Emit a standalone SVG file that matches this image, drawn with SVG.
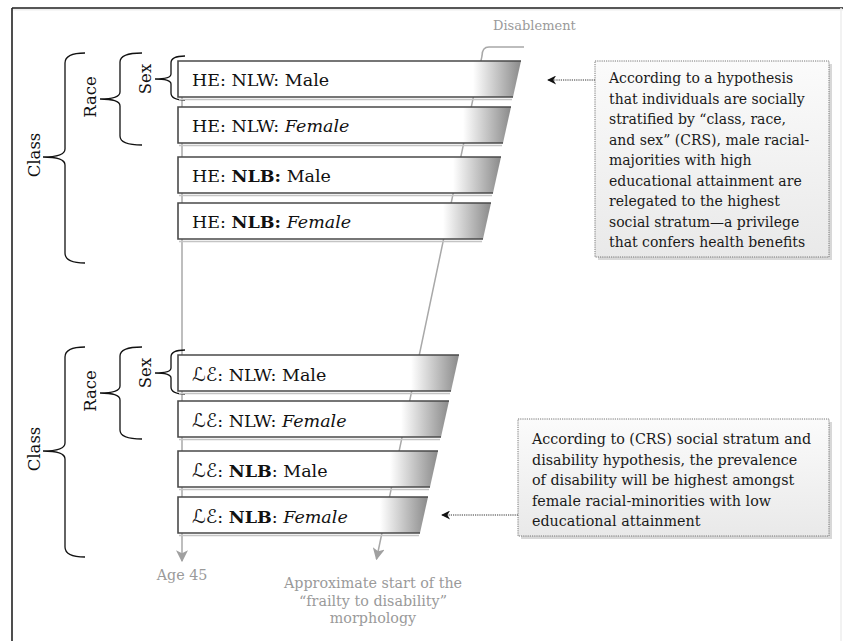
<svg xmlns="http://www.w3.org/2000/svg" width="843" height="641" viewBox="0 0 843 641">
<style>
.bt{font-family:"DejaVu Serif","Liberation Serif",serif;font-size:17.5px;fill:#111;}
.sc{font-family:"DejaVu Sans","Noto Sans",sans-serif;font-size:19px;}
.lbl{font-family:"DejaVu Serif","Liberation Serif",serif;font-size:16.5px;fill:#111;}
.gray{font-family:"DejaVu Serif","Liberation Serif",serif;font-size:14.3px;fill:#9a9a9a;}
.ct{font-family:"DejaVu Serif","Liberation Serif",serif;font-size:14.3px;fill:#1a1a1a;}
.ct1{font-family:"DejaVu Serif","Liberation Serif",serif;font-size:14px;fill:#1a1a1a;}
.bar{fill:#fff;}
.barg{fill:url(#barGrad);}
.edge{fill:none;stroke:#4a4a4a;stroke-width:1.6;}
.shadow{fill:none;stroke:#c4c4c4;stroke-width:1.6;}
.brace{fill:none;stroke:#111;stroke-width:1.3;}
.gline{fill:none;stroke:#a8a8a8;stroke-width:1.5;}
.dot{fill:none;stroke:#333;stroke-width:1;stroke-dasharray:1.2 1;}
.box{fill:url(#boxGrad);stroke:#777;stroke-width:1;stroke-dasharray:1.2 1;}
.boxsh{fill:#d8d8d8;}
</style>
<defs>
<linearGradient id="barGrad" x1="0" y1="0" x2="1" y2="0">
<stop offset="0" stop-color="#ffffff"/>
<stop offset="1" stop-color="#8a8a8a"/>
</linearGradient>
<linearGradient id="boxGrad" x1="0" y1="0" x2="0" y2="1">
<stop offset="0" stop-color="#fbfbfb"/>
<stop offset="1" stop-color="#e9e9e9"/>
</linearGradient>
<marker id="garr" markerUnits="userSpaceOnUse" markerWidth="12" markerHeight="12" viewBox="0 0 10 10" refX="9" refY="5" orient="auto">
<path d="M0,0 L10,5 L0,10 L2.5,5 z" fill="#a0a0a0"/>
</marker>
<marker id="barr" markerUnits="userSpaceOnUse" markerWidth="10" markerHeight="9" viewBox="0 0 10 10" refX="9" refY="5" orient="auto">
<path d="M0,0 L10,5 L0,10 L3,5 z" fill="#111"/>
</marker>
</defs>

<g id="frame">
<rect x="0" y="0" width="843" height="641" fill="#fff"/>
<line x1="12" y1="9" x2="843" y2="9" stroke="#eee" stroke-width="3"/>
<line x1="12" y1="8" x2="843" y2="8" stroke="#222" stroke-width="1.6"/>
<line x1="12" y1="8" x2="12" y2="641" stroke="#222" stroke-width="1.6"/>
<line x1="841" y1="8" x2="841" y2="641" stroke="#eeeeee" stroke-width="1.5"/>
</g>

<g id="connectors">
<path id="age-line" class="gline" d="M182,61 V561" marker-end="url(#garr)"/>
<path id="disablement-line" class="gline" d="M524,47 H489 Q482,47 482,56 L376.5,559" marker-end="url(#garr)"/>
<path id="callout1-arrow" class="dot" d="M595,80 H548" marker-end="url(#barr)"/>
<path id="callout2-arrow" class="dot" d="M518,515 H442" marker-end="url(#barr)"/>
</g>

<g id="axis-labels">
<text class="gray" x="493" y="30" style="font-size:13px">Disablement</text>
<text class="gray" x="182" y="580" text-anchor="middle">Age 45</text>
<text class="gray" x="373" y="588" text-anchor="middle">Approximate start of the</text>
<text class="gray" x="373" y="606" text-anchor="middle">“frailty to disability”</text>
<text class="gray" x="373" y="623" text-anchor="middle">morphology</text>
</g>

<g id="braces-upper">
<g id="class-upper">
<path class="brace" d="M85,53 Q65,53 65,63 L65,149 Q65,157 43,157 Q65,157 65,165 L65,253 Q65,263 85,263"/>
<text class="lbl" transform="translate(40,155) rotate(-90)" text-anchor="middle">Class</text>
</g>
<g id="race-upper">
<path class="brace" d="M142,53 Q120,53 120,62 L120,92 Q120,99 100,99 Q120,99 120,106 L120,136 Q120,145 142,145"/>
<text class="lbl" transform="translate(96,97) rotate(-90)" text-anchor="middle">Race</text>
</g>
<g id="sex-upper">
<path class="brace" d="M185,56 Q171,56 171,63 L171,74 Q171,79 155,79 Q171,79 171,84 L171,93 Q171,100 185,100"/>
<text class="lbl" transform="translate(151,79) rotate(-90)" text-anchor="middle">Sex</text>
</g>
</g>

<g id="braces-lower">
<g id="class-lower">
<path class="brace" d="M85,347 Q65,347 65,357 L65,443 Q65,451 43,451 Q65,451 65,459 L65,547 Q65,557 85,557"/>
<text class="lbl" transform="translate(40,449) rotate(-90)" text-anchor="middle">Class</text>
</g>
<g id="race-lower">
<path class="brace" d="M142,347 Q120,347 120,356 L120,386 Q120,393 100,393 Q120,393 120,400 L120,430 Q120,439 142,439"/>
<text class="lbl" transform="translate(96,391) rotate(-90)" text-anchor="middle">Race</text>
</g>
<g id="sex-lower">
<path class="brace" d="M185,350 Q171,350 171,357 L171,368 Q171,373 155,373 Q171,373 171,378 L171,387 Q171,394 185,394"/>
<text class="lbl" transform="translate(151,373) rotate(-90)" text-anchor="middle">Sex</text>
</g>
</g>

<g id="bar-he-nlw-male">
<polygon class="bar" points="178,61 521,61 513,97 178,97"/>
<polygon class="barg" points="473,61 521,61 513,97 473,97"/>
<path class="shadow" d="M179,99.5 H512"/>
<path class="edge" d="M521,61 H178 V97 H513"/>
<text class="bt" x="192" y="86">HE: NLW: Male</text>
</g>
<g id="bar-he-nlw-female">
<polygon class="bar" points="178,107 511,107 503,143 178,143"/>
<polygon class="barg" points="463,107 511,107 503,143 463,143"/>
<path class="shadow" d="M179,145.5 H502"/>
<path class="edge" d="M511,107 H178 V143 H503"/>
<text class="bt" x="192" y="132">HE: NLW: <tspan font-style="italic">Female</tspan></text>
</g>
<g id="bar-he-nlb-male">
<polygon class="bar" points="178,157 501,157 493,193 178,193"/>
<polygon class="barg" points="453,157 501,157 493,193 453,193"/>
<path class="shadow" d="M179,195.5 H492"/>
<path class="edge" d="M501,157 H178 V193 H493"/>
<text class="bt" x="192" y="182">HE: <tspan font-weight="bold">NLB:</tspan> Male</text>
</g>
<g id="bar-he-nlb-female">
<polygon class="bar" points="178,203 491,203 483,239 178,239"/>
<polygon class="barg" points="443,203 491,203 483,239 443,239"/>
<path class="shadow" d="M179,241.5 H482"/>
<path class="edge" d="M491,203 H178 V239 H483"/>
<text class="bt" x="192" y="228">HE: <tspan font-weight="bold">NLB:</tspan> <tspan font-style="italic">Female</tspan></text>
</g>

<g id="bar-le-nlw-male">
<polygon class="bar" points="178,355 459,355 451,391 178,391"/>
<polygon class="barg" points="411,355 459,355 451,391 411,391"/>
<path class="shadow" d="M179,393.5 H450"/>
<path class="edge" d="M459,355 H178 V391 H451"/>
<text class="bt" x="192" y="381"><tspan class="sc">ℒℰ</tspan>: NLW: Male</text>
</g>
<g id="bar-le-nlw-female">
<polygon class="bar" points="178,401 449,401 441,437 178,437"/>
<polygon class="barg" points="401,401 449,401 441,437 401,437"/>
<path class="shadow" d="M179,439.5 H440"/>
<path class="edge" d="M449,401 H178 V437 H441"/>
<text class="bt" x="192" y="427"><tspan class="sc">ℒℰ</tspan>: NLW: <tspan font-style="italic">Female</tspan></text>
</g>
<g id="bar-le-nlb-male">
<polygon class="bar" points="178,451 438,451 430,487 178,487"/>
<polygon class="barg" points="390,451 438,451 430,487 390,487"/>
<path class="shadow" d="M179,489.5 H429"/>
<path class="edge" d="M438,451 H178 V487 H430"/>
<text class="bt" x="192" y="477"><tspan class="sc">ℒℰ</tspan>: <tspan font-weight="bold">NLB</tspan>: Male</text>
</g>
<g id="bar-le-nlb-female">
<polygon class="bar" points="178,497 428,497 420,533 178,533"/>
<polygon class="barg" points="380,497 428,497 420,533 380,533"/>
<path class="shadow" d="M179,535.5 H419"/>
<path class="edge" d="M428,497 H178 V533 H420"/>
<text class="bt" x="192" y="523"><tspan class="sc">ℒℰ</tspan>: <tspan font-weight="bold">NLB</tspan>: <tspan font-style="italic">Female</tspan></text>
</g>

<g id="callout-upper">
<rect class="boxsh" x="598" y="64" width="234" height="196"/>
<rect class="box" x="595" y="61" width="234" height="196"/>
<text class="ct1" x="609" y="83">According to a hypothesis</text>
<text class="ct1" x="609" y="103.5">that individuals are socially</text>
<text class="ct1" x="609" y="124">stratified by “class, race,</text>
<text class="ct1" x="609" y="144.5">and sex” (CRS), male racial-</text>
<text class="ct1" x="609" y="165">majorities with high</text>
<text class="ct1" x="609" y="185.5">educational attainment are</text>
<text class="ct1" x="609" y="206">relegated to the highest</text>
<text class="ct1" x="609" y="226.5">social stratum—a privilege</text>
<text class="ct1" x="609" y="247">that confers health benefits</text>
</g>

<g id="callout-lower">
<rect class="boxsh" x="521" y="422" width="311" height="117"/>
<rect class="box" x="518" y="419" width="311" height="117"/>
<text class="ct" x="532" y="444">According to (CRS) social stratum and</text>
<text class="ct" x="532" y="464.5">disability hypothesis, the prevalence</text>
<text class="ct" x="532" y="485">of disability will be highest amongst</text>
<text class="ct" x="532" y="505.5">female racial-minorities with low</text>
<text class="ct" x="532" y="526">educational attainment</text>
</g>
</svg>
